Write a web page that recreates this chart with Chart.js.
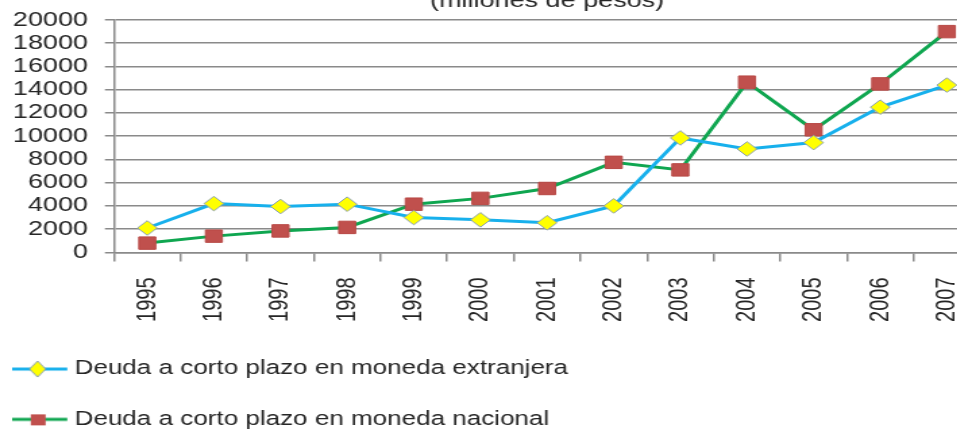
<!DOCTYPE html>
<html>
<head>
<meta charset="utf-8">
<script src="https://cdn.jsdelivr.net/npm/chart.js@4.4.1/dist/chart.umd.min.js"></script>
<style>
  html, body { margin: 0; padding: 0; background: #fff; overflow: hidden; }
  body { width: 957px; height: 431px; position: relative; }
  /* the source picture is stretched sideways, so the chart is too */
  #wrap { position: absolute; left: 0; top: -11px; width: 742px; height: 450px;
          transform: scaleX(1.35); transform-origin: 0 0; }
</style>
</head>
<body>
<div id="wrap"><canvas id="debtChart"></canvas></div>
<script>
// Data
const years = ['1995', '1996', '1997', '1998', '1999', '2000', '2001',
               '2002', '2003', '2004', '2005', '2006', '2007'];
const extranjera = [2100, 4200, 3950, 4150, 3000, 2800, 2550, 4000, 9850, 8900, 9450, 12500, 14400];
const nacional = [800, 1400, 1850, 2150, 4150, 4650, 5500, 7750, 7100, 14650, 10550, 14500, 19000];
const seriesNames = ['Deuda a corto plazo en moneda extranjera',
                     'Deuda a corto plazo en moneda nacional'];
const chartTitle = '(millones de pesos)';
const yMin = 0;
const yMax = 20000;
const yStep = 2000;

const fontFamily = '"Liberation Sans", Arial, sans-serif';
const gridColor = '#8a8a8a';
const textColor = '#262626';
const blue = '#17b0ec';
const green = '#0fa650';
const yellow = '#ffff00';
const red = '#c0504d';

// Line + marker picture for the legend; wider than the legend box so the
// line can start further left than the legend padding allows
function legendIcon(lineColor, marker) {
  const c = document.createElement('canvas');
  c.width = 59;
  c.height = 18;
  const g = c.getContext('2d');
  g.strokeStyle = lineColor;
  g.lineWidth = 3;
  g.beginPath();
  g.moveTo(0, 9);
  g.lineTo(41, 9);
  g.stroke();
  if (marker === 'diamond') {
    g.fillStyle = yellow;
    g.strokeStyle = '#8a9fb0';
    g.lineWidth = 1;
    g.beginPath();
    g.moveTo(19, 1);
    g.lineTo(25, 9);
    g.lineTo(19, 17);
    g.lineTo(13, 9);
    g.closePath();
    g.fill();
    g.stroke();
  } else {
    g.fillStyle = red;
    g.fillRect(14, 4, 11, 11);
  }
  return c;
}

const icons = [legendIcon(blue, 'diamond'), legendIcon(green, 'square')];

const ctx = document.getElementById('debtChart').getContext('2d');

new Chart(ctx, {
  type: 'line',
  data: {
    labels: years,
    datasets: [
      {
        label: seriesNames[0],
        data: extranjera,
        borderColor: blue,
        borderWidth: 3,
        backgroundColor: yellow,
        pointStyle: 'rectRot',
        pointRadius: 7.3,
        pointBackgroundColor: yellow,
        pointBorderColor: '#8a9fb0',
        pointBorderWidth: 1,
        tension: 0,
        fill: false
      },
      {
        label: seriesNames[1],
        data: nacional,
        borderColor: green,
        borderWidth: 3,
        backgroundColor: red,
        pointStyle: 'rect',
        pointRadius: 8.8,
        pointBackgroundColor: red,
        pointBorderColor: '#b84845',
        pointBorderWidth: 1,
        tension: 0,
        fill: false
      }
    ]
  },
  options: {
    responsive: true,
    maintainAspectRatio: false,
    animation: false,
    layout: { padding: 0 },
    plugins: {
      title: {
        display: true,
        text: chartTitle,
        fullSize: false,
        color: textColor,
        font: { family: fontFamily, size: 20, weight: 'normal' },
        padding: { top: 0, bottom: 7 }
      },
      legend: {
        display: true,
        position: 'bottom',
        align: 'start',
        labels: {
          usePointStyle: true,
          pointStyleWidth: 14.6,
          padding: 31,
          color: textColor,
          font: { family: fontFamily, size: 19.3 },
          generateLabels: function(chart) {
            const items = Chart.defaults.plugins.legend.labels.generateLabels(chart);
            items.forEach((item, i) => { item.pointStyle = icons[i]; });
            return items;
          }
        }
      },
      tooltip: { enabled: false }
    },
    scales: {
      x: {
        offset: true,
        afterFit: function(scale) { scale.height = 76; },
        grid: {
          offset: true,
          drawOnChartArea: false,
          drawTicks: true,
          tickLength: 9,
          color: gridColor,
          lineWidth: 1.5
        },
        border: { display: true, color: gridColor, width: 1.5 },
        ticks: {
          autoSkip: false,
          maxRotation: 90,
          minRotation: 90,
          padding: 16,
          color: textColor,
          font: { family: fontFamily, size: 20 }
        }
      },
      y: {
        min: yMin,
        max: yMax,
        afterFit: function(scale) { scale.width = 84.4; },
        grid: {
          color: gridColor,
          lineWidth: 1.5,
          drawTicks: true,
          tickLength: 6.7
        },
        border: { display: true, color: gridColor, width: 1.5 },
        ticks: {
          stepSize: yStep,
          autoSkip: false,
          padding: 12.5,
          color: textColor,
          font: { family: fontFamily, size: 20 },
          callback: value => String(value)
        }
      }
    }
  }
});
</script>
</body>
</html>
